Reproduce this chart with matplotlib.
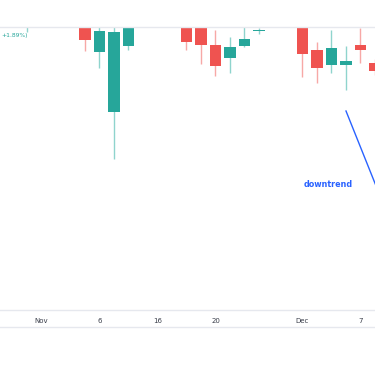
import matplotlib

matplotlib.use("Agg")
import matplotlib.pyplot as plt
from matplotlib.lines import Line2D

# daily bars (index, open, high, low, close); bars above the view are clipped
idx = list(range(25))
opens = [101.3, 101.0, 101.4, 101.2, 100.8, 97.5, 91.5, 98.1, 101.0, 102.2, 103.0,
         101.5, 100.9, 98.2, 96.9, 98.1, 99.65, 100.8, 101.6, 101.9, 97.7, 96.2,
         96.17, 98.2, 96.43]
highs = [102.8, 101.9, 102.0, 101.6, 101.2, 100.5, 100.4, 101.0, 102.6, 103.5, 103.4,
         101.8, 101.2, 99.7, 99.0, 100.3, 99.9, 102.0, 102.8, 102.3, 98.5, 99.7,
         98.1, 99.9, 96.8]
lows = [99.5, 100.6, 100.9, 100.7, 97.6, 95.9, 86.8, 97.7, 100.3, 101.6, 101.5,
        97.7, 96.3, 95.1, 95.4, 98.0, 99.3, 100.4, 101.1, 95.0, 94.4, 95.4,
        93.7, 96.4, 95.2]
closes = [102.3, 101.4, 101.2, 101.5, 98.7, 99.6, 99.5, 100.6, 102.2, 103.0, 102.0,
          98.5, 98.2, 96.1, 98.0, 98.8, 99.75, 101.6, 102.4, 97.3, 95.9, 97.9,
          96.57, 97.7, 95.6]

tick_pos = [1, 5, 9, 13, 19, 23]
tick_labels = ["Nov", "6", "16", "20", "Dec", "7"]

trend_x = [22.0, 24.6]
trend_y = [91.6, 82.2]
note_x, note_y = 20.76, 84.3

UP = "#26a69a"
DOWN = "#ef5350"
UP_WICK = "#8fd4cd"
DOWN_WICK = "#f7a8a6"
GRID = "#e6e8ee"

fig = plt.figure(figsize=(3.75, 3.66), dpi=100)
ax = fig.add_axes([0, 1 - 310 / 366, 1, 283 / 366])

for i, o, h, l, c in zip(idx, opens, highs, lows, closes):
    up = c >= o
    ax.plot([i, i], [l, h], color=UP_WICK if up else DOWN_WICK, lw=1.0, zorder=1,
            solid_capstyle="butt")
    ax.bar(i, abs(c - o), bottom=min(o, c), width=0.76,
           color=UP if up else DOWN, edgecolor="none", zorder=2)

ax.plot(trend_x, trend_y, color="#2962ff", lw=1.0, zorder=3)
ax.text(note_x, note_y, "downtrend", color="#2962ff", fontsize=5.8,
        fontweight="bold", ha="center", va="center")

ax.set_xlim(-1.862, 24.0)
ax.set_ylim(71.7, 100.0)
ax.set_yticks([])
ax.set_xticks(tick_pos)
ax.set_xticklabels(tick_labels, fontsize=5, color="#3a3e4a")
ax.tick_params(axis="x", length=0, pad=6)
for side in ("left", "right"):
    ax.spines[side].set_visible(False)
for side in ("top", "bottom"):
    ax.spines[side].set_color(GRID)
    ax.spines[side].set_linewidth(1.0)

fig.add_artist(Line2D([0, 1], [1 - 326.5 / 366] * 2, color=GRID, lw=1.0,
                      transform=fig.transFigure))
fig.text(1 / 375, 1 - 36 / 366, "+1.89%)", color=UP, fontsize=4.3,
         ha="left", va="center")

fig.savefig("out.png", dpi=100)
